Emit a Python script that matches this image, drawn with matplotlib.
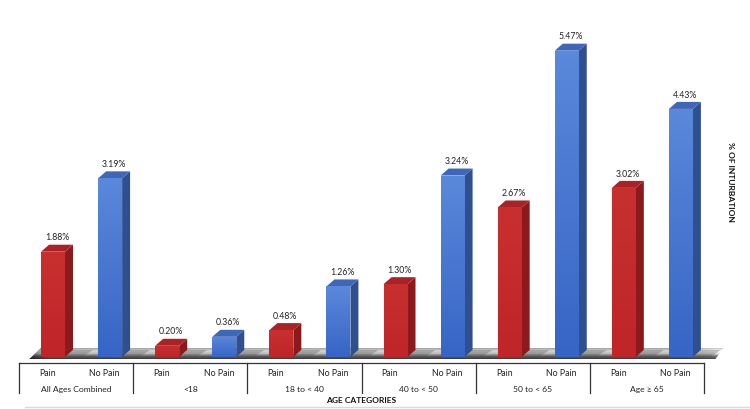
import numpy as np
import matplotlib.pyplot as plt
from matplotlib.patches import Polygon
from matplotlib.colors import LinearSegmentedColormap, to_rgb

groups = ["All Ages Combined", "<18", "18 to < 40", "40 to < 50", "50 to < 65", "Age \u2265 65"]
series = ["Pain", "No Pain"]
pain = [1.88, 0.20, 0.48, 1.30, 2.67, 3.02]
no_pain = [3.19, 0.36, 1.26, 3.24, 5.47, 4.43]

plt.rcParams['font.family'] = ['Lato', 'DejaVu Sans']

fig = plt.figure(figsize=(7.5, 4.1), dpi=100)
ax = fig.add_axes([0, 0, 1, 1])
# map data units onto the pixel layout: slot width ~57px, 1% ~56px
ax.set_xlim(-0.333, 12.806)
ax.set_ylim(-0.929, 6.393)
ax.axis('off')

dx, dy = 0.14, 0.125   # depth of the fake 3d
bw = 0.42
off = 0.386

# floor slab with a shaded look
fx0, fx1 = 0.18, 12.2
fy0, fy1 = -0.036, 0.16
floor = Polygon([(fx0, fy0), (fx1, fy0), (fx1 + 0.14, fy1), (fx0 + 0.2, fy1)],
                closed=True, facecolor='none', edgecolor='none')
ax.add_patch(floor)
vert = LinearSegmentedColormap.from_list('fv', ['#3a3a3a', '#5e5e5e', '#bdbdbd', '#d6d6d6', '#a0a0a0'])
col = vert(np.linspace(0, 1, 40))[:, None, :3]
horiz = np.ones(400)
horiz[:12] = np.linspace(0.55, 1, 12)
horiz[-25:] = np.linspace(1, 1.25, 25)
img = np.clip(col * horiz[None, :, None], 0, 1)
im = ax.imshow(img, extent=(fx0, fx1 + 0.14, fy0, fy1), origin='lower', aspect='auto', zorder=1)
im.set_clip_path(floor)

colors = {
    "Pain": ('#c4282c', '#8c1a1c', '#a82226', ['#c8302f', '#bf2529']),
    "No Pain": ('#4a78d0', '#2f4f90', '#3f66b8', ['#5a88da', '#3765c6']),
}

for g in range(len(groups)):
    for s, name in enumerate(series):
        v = (pain if name == "Pain" else no_pain)[g]
        x0 = 2 * g + s + off
        front, side, top, fgrad = colors[name]
        # soft shadow on the floor behind the bar
        ax.add_patch(Polygon([(x0 + bw + dx, dy), (x0 + bw + dx + 0.35, dy), (x0 + bw + 0.3, 0.0), (x0 + bw, 0.0)],
                             closed=True, facecolor='#555555', alpha=0.35, edgecolor='none', zorder=2))
        bar = ax.bar(x0, v, width=bw, align='edge', color=front, zorder=3)[0]
        cm = LinearSegmentedColormap.from_list('b', [fgrad[1], fgrad[0]])
        gim = ax.imshow(np.linspace(0, 1, 64)[:, None], extent=(x0, x0 + bw, 0, v),
                        origin='lower', aspect='auto', cmap=cm, zorder=3.1)
        gim.set_clip_path(bar)
        ax.add_patch(Polygon([(x0 + bw, 0), (x0 + bw + dx, dy), (x0 + bw + dx, v + dy), (x0 + bw, v)],
                             closed=True, facecolor=side, edgecolor='none', zorder=3))
        ax.add_patch(Polygon([(x0, v), (x0 + bw, v), (x0 + bw + dx, v + dy), (x0 + dx, v + dy)],
                             closed=True, facecolor=top, edgecolor='none', zorder=3))
        ax.text(x0 + bw / 2 + dx / 2, v + dy + 0.06, f"{v:.2f}%", ha='center', va='bottom',
                fontsize=6.3, color='#222222', zorder=4)
        ax.text(2 * g + s + 0.5, -0.286, name, ha='center', va='center', fontsize=6.3, color='#222222')
    ax.text(2 * g + 1, -0.554, groups[g], ha='center', va='center', fontsize=6.1, color='#222222')

# category table lines
ax.plot([0, 12], [-0.107, -0.107], color='#333333', lw=0.9)
for g in range(len(groups) + 1):
    ax.plot([2 * g, 2 * g], [-0.107, -0.643], color='#333333', lw=0.9)
ax.plot([0.1, 12.8], [-0.893, -0.893], color='#d9d9d9', lw=1)

ax.text(6, -0.768, "AGE CATEGORIES", ha='center', va='center', fontsize=6, fontweight='bold', color='#111111')
ax.text(12.456, 3.14, "% OF INTURBATION", ha='center', va='center', rotation=270,
        fontsize=6, fontweight='bold', color='#111111')

fig.savefig('out.png', dpi=100)
